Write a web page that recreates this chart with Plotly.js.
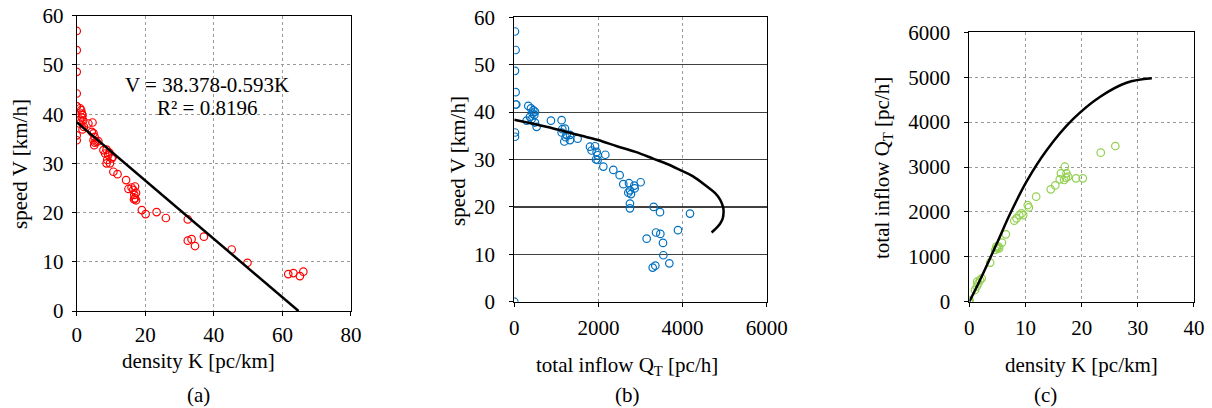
<!DOCTYPE html>
<html><head><meta charset="utf-8">
<script src="https://cdn.plot.ly/plotly-3.0.1.min.js"></script>
<style>html,body{margin:0;padding:0;background:#fff}#c{width:1212px;height:408px}</style>
</head><body><div id="c"></div>
<script>
// Panel (a): density K vs speed V
const aK = [0,0,0,0,0,0,0,0,1,1.3,1.5,1.7,1.5,1,1.9,0.8,2.1,1.7,3.4,4.6,4.4,4.9,5.2,4.9,5.3,5.1,5.8,6.3,7.8,8.3,8.7,9.2,8.9,8.7,9.7,10.2,10.5,9.5,10.7,11.9,14.4,15.1,16.0,16.5,17.0,17.3,16.8,17.0,17.3,16.7,19.0,20.1,23.3,26.0,32.4,32.4,33.5,34.5,37.1,45.2,49.8,61.7,63.2,65.1,66.1];
const aV = [56.9,53.0,48.6,44.2,41.6,41.6,35.7,34.7,41.2,40.8,40.1,39.8,39.3,38.9,38.7,38.1,37.4,36.9,38.1,38.3,36.4,36.1,35.4,34.7,34.2,33.7,34.4,34.5,32.7,32.0,32.8,31.7,30.7,30.0,30.0,31.0,31.3,32.2,28.3,27.8,26.6,24.8,25.1,24.6,25.3,24.0,23.6,22.9,22.5,22.7,20.5,19.7,20.1,18.9,18.6,14.3,14.6,13.2,15.1,12.5,9.8,7.5,7.7,7.1,8.0];
const aLineK = [0, 64.7];
const aLineV = [38.378, 0];
const aEq = "V = 38.378-0.593K";
const aR2 = "R² = 0.8196";

// Panel (b): total inflow Q vs speed V
const bQ = [17,32,17,32,32,48,17,17,0,334,397,452,492,437,476,373,413,294,492,532,872,1126,1142,1205,1126,1245,1324,1189,1324,1506,1221,1800,1839,1919,1958,1982,1942,1982,2164,2117,2354,2505,2592,2727,2853,2861,3004,2711,2774,2750,2750,2750,3313,3464,4177,3891,3147,3369,3472,3535,3543,3686,3290,3353];
const bV = [57.0,53.1,48.7,44.2,41.6,41.6,35.7,34.8,0,41.3,40.8,40.4,40.1,39.7,39.4,39.0,38.5,38.2,37.8,36.9,38.2,38.3,36.4,36.5,35.7,35.2,35.2,33.8,34.1,34.4,34.7,32.7,31.9,32.8,31.6,30.9,30.0,29.9,31.0,28.5,27.8,26.7,24.8,25.0,24.5,23.9,25.2,23.0,22.7,23.5,20.7,19.7,20.0,18.9,18.6,15.1,13.3,14.6,14.3,12.4,9.8,8.1,7.2,7.6];
const bCurveQ = [0,420,820,1210,1600,1990,2440,2880,3300,3650,3960,4240,4580,4775,4895,4965,4975,4955,4895,4790,4690];
const bCurveV = [38.4,37.6,36.8,35.9,35.0,34.1,32.8,31.6,30.2,29.0,27.7,26.5,24.3,22.9,21.5,19.9,19.0,17.6,16.5,15.4,14.6];

// Panel (c): density K vs total inflow Q
const cK = [0,0,0,1.0,1.3,1.6,1.9,2.2,1.4,3.7,4.6,4.9,5.3,5.2,5.8,4.8,6.5,8.0,8.4,8.9,9.3,9.6,10.4,10.6,11.9,14.5,15.3,16.1,16.3,17.0,17.3,17.2,16.9,17.6,19.0,20.2,23.4,26.0];
const cQ = [0,20,40,260,334,408,483,520,446,871,1152,1189,1189,1227,1316,1227,1500,1804,1856,1930,1967,1930,2153,2101,2339,2502,2591,2725,2859,3007,2859,2762,2711,2784,2747,2747,3319,3467];
const cCurveK = [0,1.9,4.9,7.3,10.2,13.8,18.5,23.3,28.0,32.5];
const cCurveQ = [0,483,1300,1969,2680,3379,4070,4566,4878,4975];

const xTicksA = [0,20,40,60,80], yTicks60 = [0,10,20,30,40,50,60];
const xTicksB = [0,2000,4000,6000], xTicksC = [0,10,20,30,40], yTicksC = [0,1000,2000,3000,4000,5000,6000];

const F = '"Liberation Serif", "Times New Roman", Times, serif';
const tf = {family: F, size: 21, color: '#000'};
const mk = c => ({symbol: 'circle-open', size: 7.5, color: c, line: {width: 1.2, color: c}});
const dotGrid = {showgrid: true, gridcolor: '#9a9a9a', griddash: 'dot', gridwidth: 1};
function ax(extra){
  return Object.assign({showline: true, mirror: true, linecolor: '#000', linewidth: 1,
    zeroline: true, zerolinecolor: '#000', zerolinewidth: 2,
    ticks: 'outside', ticklen: 4, tickcolor: '#000', tickfont: tf, fixedrange: true}, dotGrid, extra);
}
function ann(text, x, y, rot){
  return {text: text, x: x/1212, y: 1 - y/408, xref: 'paper', yref: 'paper', showarrow: false,
    xanchor: 'center', yanchor: 'middle', textangle: rot || 0, font: tf};
}

const traces = [
  {x: aK, y: aV, type: 'scatter', mode: 'markers', marker: mk('#ff0000'), xaxis: 'x', yaxis: 'y', showlegend: false},
  {x: aLineK, y: aLineV, type: 'scatter', mode: 'lines', line: {color: '#000', width: 2.5}, xaxis: 'x', yaxis: 'y', showlegend: false},
  {x: bQ, y: bV, type: 'scatter', mode: 'markers', marker: mk('#0070c0'), xaxis: 'x2', yaxis: 'y2', showlegend: false},
  {x: bCurveQ, y: bCurveV, type: 'scatter', mode: 'lines', line: {color: '#000', width: 2.5, shape: 'spline'}, xaxis: 'x2', yaxis: 'y2', showlegend: false},
  {x: cK, y: cQ, type: 'scatter', mode: 'markers', marker: mk('#92d050'), xaxis: 'x3', yaxis: 'y3', showlegend: false},
  {x: cCurveK, y: cCurveQ, type: 'scatter', mode: 'lines', line: {color: '#000', width: 2.5, shape: 'spline'}, xaxis: 'x3', yaxis: 'y3', showlegend: false}
];

const layout = {
  width: 1212, height: 408, margin: {l: 0, r: 0, t: 0, b: 0},
  paper_bgcolor: '#fff', plot_bgcolor: '#fff', font: tf,
  xaxis: ax({domain: [0.0633, 0.2896], range: [0, 80], tickvals: xTicksA, anchor: 'y', ticklabelstandoff: 1}),
  yaxis: ax({domain: [0.2377, 0.9615], range: [0, 60], tickvals: yTicks60, anchor: 'x', ticklabelstandoff: 4}),
  xaxis2: ax({domain: [0.4243, 0.6326], range: [0, 6000], tickvals: xTicksB, anchor: 'y2', ticklabelstandoff: 3}),
  yaxis2: ax({domain: [0.2605, 0.9576], range: [0, 60], tickvals: yTicks60, anchor: 'x2', griddash: 'solid', gridcolor: '#404040', gridwidth: 1.2, ticklabelstandoff: 10}),
  xaxis3: ax({domain: [0.7998, 0.9851], range: [0, 40], tickvals: xTicksC, anchor: 'y3', ticklabelstandoff: 3}),
  yaxis3: ax({domain: [0.2605, 0.9208], range: [0, 6000], tickvals: yTicksC, anchor: 'x3', ticklabelstandoff: 10}),
  annotations: [
    ann(aEq, 206.7, 85),
    ann(aR2, 206.7, 108),
    ann('density K [pc/km]', 198, 361),
    ann('speed V [km/h]', 20, 164, -90),
    ann('(a)', 198, 395),
    ann('total inflow Q<sub>T</sub> [pc/h]', 627, 366),
    ann('speed V [km/h]', 458, 161, -90),
    ann('(b)', 627, 395),
    ann('density K [pc/km]', 1081, 365),
    ann('total inflow Q<sub>T</sub> [pc/h]', 883, 168, -90),
    ann('(c)', 1045, 395)
  ]
};
Plotly.newPlot('c', traces, layout, {staticPlot: true, displayModeBar: false});
</script></body></html>
